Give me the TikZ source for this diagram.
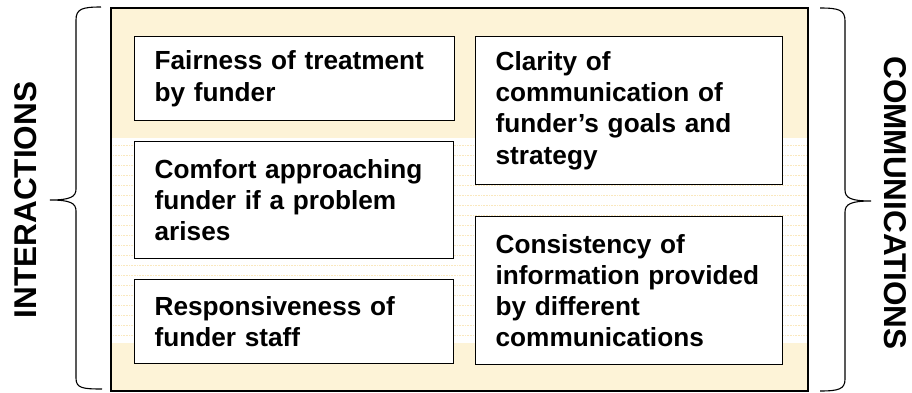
\documentclass[tikz,border=0pt]{standalone}
\usepackage{fontspec}
\setmainfont{Liberation Sans}
\usepackage{tikz}

\definecolor{cream}{RGB}{253,243,215}
\definecolor{creamline}{RGB}{250,232,190}

\begin{document}
\begin{tikzpicture}[x=1pt,y=-1pt,
    txtbox/.style={draw,line width=1.3pt,fill=white,anchor=north west,
        align=left,inner xsep=20pt,inner ysep=0pt,
        font=\fontsize{26.2}{31.2}\selectfont\bfseries},
    sidelbl/.style={font=\fontsize{31.5}{36}\selectfont\bfseries,inner sep=0pt},
    brace/.style={line width=1.1pt}]
\useasboundingbox (0,0) rectangle (912,393);

% Draw the panel, and the light middle band.
\fill[cream] (111,8) rectangle (808,391);
\fill[white] (112,138) rectangle (807,343);
\foreach \y in {145,155,...,335}
  \draw[creamline,densely dotted,line width=0.6pt] (113,\y) -- (806,\y);
\draw[line width=1.3pt] (111,8) rectangle (808,391);

% Interaction boxes.
\node[txtbox,text width=280pt,minimum height=84pt] (fair) at (134,36)
  {Fairness of treatment\\by funder};
\node[txtbox,text width=279pt,minimum height=117pt] (comfort) at (134,141)
  {Comfort approaching\\funder if a problem\\arises};
\node[txtbox,text width=279pt,minimum height=84pt] (respond) at (134,279)
  {Responsiveness of\\funder staff};

% Communication boxes.
\node[txtbox,text width=267pt,minimum height=148pt] (clarity) at (475,36)
  {Clarity of\\communication of\\funder’s goals and\\strategy};
\node[txtbox,text width=267pt,minimum height=148pt] (consist) at (475,216)
  {Consistency of\\information provided\\by different\\communications};

% Braces and side labels.
\draw[brace] (101,7) .. controls (82,7) and (76,9) .. (76,20) -- (76,189)
  .. controls (76,197) and (70,200) .. (50,200)
  .. controls (70,200) and (76,203) .. (76,211) -- (76,378)
  .. controls (76,388) and (82,389) .. (102,389);
\draw[brace] (820,8) .. controls (839,8) and (845,10) .. (845,21) -- (845,190)
  .. controls (845,198) and (851,201) .. (871,201)
  .. controls (851,201) and (845,204) .. (845,212) -- (845,379)
  .. controls (845,389) and (839,391) .. (820,391);

\node[sidelbl,rotate=90] (inter) at (26,200) {INTERACTIONS};
\node[sidelbl,rotate=-90] (comm) at (895,203) {COMMUNICATIONS};

\end{tikzpicture}
\end{document}
